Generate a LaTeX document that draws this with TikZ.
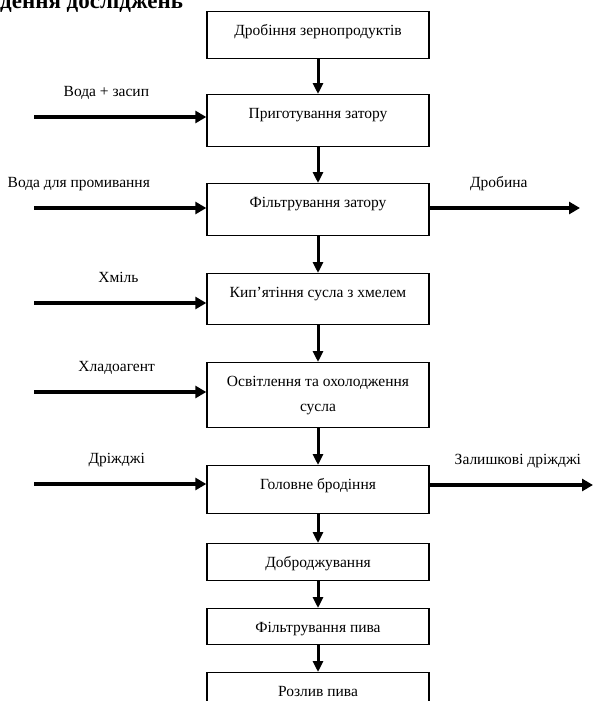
\documentclass[tikz,border=0pt]{standalone}
\usepackage{fontspec}
\setmainfont{Liberation Serif}
\usetikzlibrary{arrows.meta}

\def\dX{318}
\def\dL{34}
\def\dW{222pt}

\begin{document}
\begin{tikzpicture}[x=1pt, y=-1pt,
    every node/.style={font=\fontsize{15.5}{25}\selectfont},
    stage/.style={draw=black, line width=1.4pt, minimum width=\dW, inner xsep=2pt,
                  inner ysep=0pt, text height=24pt, text depth=#1, anchor=north},
    flow/.style={line width=4pt, -{Triangle[length=11pt,width=12pt]}},
    down/.style={line width=3pt, -{Triangle[length=11pt,width=10pt]}},
    tag/.style={inner sep=0pt, text height=11pt, text depth=3.5pt, above=15pt}]

    \useasboundingbox (0,0) rectangle (594,701);

    %%   (lable)  (x, y)     {\text}
    \node[font=\bfseries\fontsize{23}{23}\selectfont, anchor=base west, inner sep=0pt] (T) at (0,9) {дення досліджень};

    \node[stage=23pt] (B1) at (\dX, 11) {Дробіння зернопродуктів};
    \node[stage=28pt] (B2) at (\dX, 94) {Приготування затору};
    \node[stage=28pt] (B3) at (\dX,183) {Фільтрування затору};
    \node[stage=27pt] (B4) at (\dX,273) {Кип’ятіння сусла з хмелем};
    \node[draw=black, line width=1.4pt, minimum width=\dW, minimum height=65pt,
          align=center, anchor=north] (B5) at (\dX,362) {Освітлення та охолодження\\сусла};
    \node[stage=24pt] (B6) at (\dX,465) {Головне бродіння};
    \node[stage=13pt] (B7) at (\dX,543) {Доброджування};
    \node[stage=12pt] (B8) at (\dX,608) {Фільтрування пива};
    \node[stage=13pt] (B9) at (\dX,672) {Розлив пива};

    %% inputs and outputs
    \coordinate (IN1)  at (\dL,117);
    \coordinate (IN2)  at (\dL,208);
    \coordinate (IN3)  at (\dL,303);
    \coordinate (IN4)  at (\dL,392);
    \coordinate (IN5)  at (\dL,484);
    \coordinate (OUT1) at (580,208);
    \coordinate (OUT2) at (593,485);

    \path[down] (B1) edge (B2);
    \path[down] (B2) edge (B3);
    \path[down] (B3) edge (B4);
    \path[down] (B4) edge (B5);
    \path[down] (B5) edge (B6);
    \path[down] (B6) edge (B7);
    \path[down] (B7) edge (B8);
    \path[down] (B8) edge (B9);

    \path[flow] (IN1) edge node[tag, pos=0.42] {Вода + засип}        (IN1 -| B2.west);
    \path[flow] (IN2) edge node[tag, pos=0.26] {Вода для промивання} (IN2 -| B3.west);
    \path[flow] (IN3) edge node[tag, pos=0.49] {Хміль}               (IN3 -| B4.west);
    \path[flow] (IN4) edge node[tag, pos=0.48] {Хладоагент}          (IN4 -| B5.west);
    \path[flow] (IN5) edge node[tag, pos=0.48] {Дріжджі}             (IN5 -| B6.west);

    \path[flow] (OUT1 -| B3.east) edge node[tag, pos=0.46] {Дробина}           (OUT1);
    \path[flow] (OUT2 -| B6.east) edge node[tag, pos=0.54] {Залишкові дріжджі} (OUT2);

  \end{tikzpicture}
\end{document}
